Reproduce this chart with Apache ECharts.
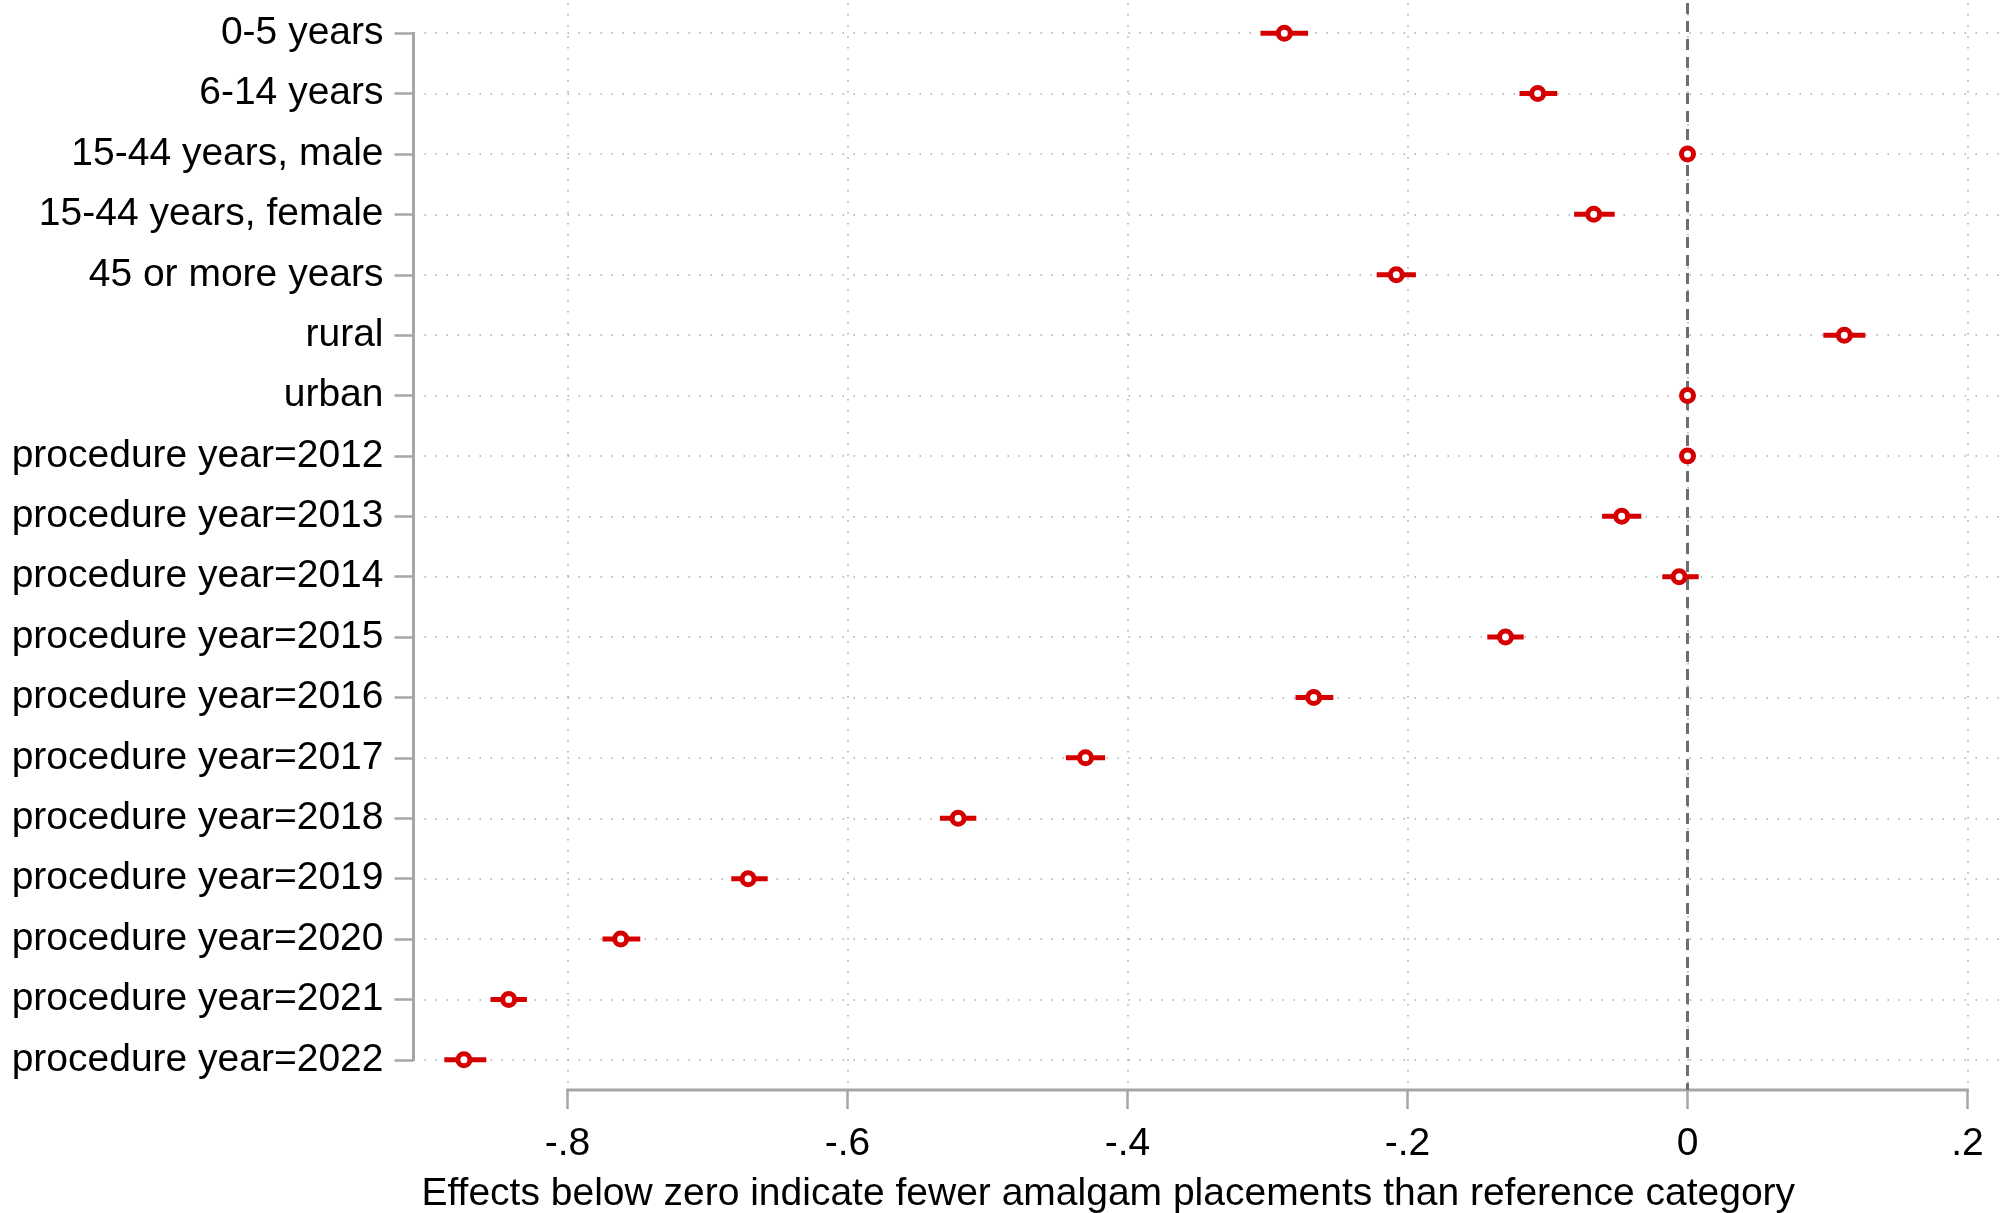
<!DOCTYPE html>
<html>
<head>
<meta charset="utf-8">
<script src="https://cdn.jsdelivr.net/npm/echarts@6/dist/echarts.min.js"></script>
<style>
  html, body { margin: 0; padding: 0; background: #fff; }
  #chart { width: 2000px; height: 1213px; }
</style>
</head>
<body>
<div id="chart"></div>
<script>
// rows, top to bottom
const categories = [
  "0-5 years",
  "6-14 years",
  "15-44 years, male",
  "15-44 years, female",
  "45 or more years",
  "rural",
  "urban",
  "procedure year=2012",
  "procedure year=2013",
  "procedure year=2014",
  "procedure year=2015",
  "procedure year=2016",
  "procedure year=2017",
  "procedure year=2018",
  "procedure year=2019",
  "procedure year=2020",
  "procedure year=2021",
  "procedure year=2022",
];
const estimates = [-0.288, -0.107, 0, -0.067, -0.208, 0.112, 0, 0, -0.047, -0.006, -0.130, -0.267, -0.430, -0.521, -0.671, -0.762, -0.842, -0.874];
const ciLow     = [-0.305, -0.120, 0, -0.081, -0.222, 0.097, 0, 0, -0.061, -0.018, -0.143, -0.280, -0.444, -0.534, -0.683, -0.775, -0.855, -0.888];
const ciHigh    = [-0.271, -0.093, 0, -0.052, -0.194, 0.127, 0, 0, -0.033, 0.008, -0.117, -0.253, -0.416, -0.508, -0.657, -0.748, -0.829, -0.858];
const xTicks = [-0.8, -0.6, -0.4, -0.2, 0, 0.2];
const xTickLabels = ["-.8", "-.6", "-.4", "-.2", "0", ".2"];
const refLine = 0;

const xMin = -0.91;
const xMax = 0.2232;
const yMin = -0.5;
const yMax = categories.length - 0.5;
const rowIdx = categories.map((c, i) => i);

const red = "#d40000";
const axisGray = "#a6a6a6";
const gridStyle = { color: "#aaaaaa", width: 1.5, type: [1.5, 9.5] };
const font = "'Liberation Sans', Arial, sans-serif";

const chart = echarts.init(document.getElementById("chart"));

chart.setOption({
  animation: false,
  backgroundColor: "#fff",
  grid: { left: 413.5, right: 0, top: 3, bottom: 123, outerBoundsMode: "none", containLabel: false },
  xAxis: {
    type: "value",
    min: xMin,
    max: xMax,
    axisLine: { show: false, onZero: false },
    axisTick: {
      show: true,
      customValues: xTicks,
      length: 19,
      lineStyle: { color: axisGray, width: 2.5 },
    },
    axisLabel: {
      customValues: xTicks,
      margin: 35,
      color: "#000",
      fontFamily: font,
      fontSize: 39,
      formatter: (v) => xTickLabels[xTicks.findIndex((t) => Math.abs(t - v) < 1e-9)],
    },
    splitLine: { show: true, lineStyle: gridStyle },
    name: "Effects below zero indicate fewer amalgam placements than reference category",
    nameLocation: "middle",
    nameGap: 85,
    nameTextStyle: {
      color: "#000",
      fontFamily: font,
      fontSize: 39,
      padding: [0, 197, 0, 0],
    },
  },
  yAxis: {
    type: "value",
    inverse: true,
    min: yMin,
    max: yMax,
    axisLine: { show: false, onZero: false },
    axisTick: {
      show: true,
      customValues: rowIdx,
      length: 19,
      lineStyle: { color: axisGray, width: 2.5 },
    },
    axisLabel: {
      customValues: rowIdx,
      margin: 30,
      color: "#000",
      fontFamily: font,
      fontSize: 39,
      padding: [7, 0, 0, 0],
      formatter: (v) => categories[Math.round(v)],
    },
    splitLine: { show: true, lineStyle: gridStyle },
  },
  series: [
    {
      // axis lines that only span the tick range, like the original
      type: "custom",
      name: "axes",
      silent: true,
      z: 2,
      data: [[0]],
      renderItem: (params, api) => {
        const xa = api.coord([xTicks[0], yMax]);
        const xb = api.coord([xTicks[xTicks.length - 1], yMax]);
        const ya = api.coord([xMin, 0]);
        const yb = api.coord([xMin, categories.length - 1]);
        const style = { stroke: axisGray, lineWidth: 3, fill: null };
        return {
          type: "group",
          children: [
            { type: "line", shape: { x1: xa[0] - 1.25, y1: xa[1], x2: xb[0] + 1.25, y2: xb[1] }, style },
            { type: "line", shape: { x1: ya[0], y1: ya[1] - 1.25, x2: yb[0], y2: yb[1] + 1.25 }, style },
          ],
        };
      },
    },
    {
      type: "line",
      name: "reference",
      data: [],
      z: 3,
      markLine: {
        silent: true,
        symbol: "none",
        label: { show: false },
        lineStyle: { color: "#6e6e6e", width: 3, type: [11, 7] },
        data: [{ xAxis: refLine }],
      },
    },
    {
      type: "custom",
      name: "ci",
      z: 4,
      data: categories.map((c, i) => [i, ciLow[i], ciHigh[i]]),
      renderItem: (params, api) => {
        const i = api.value(0);
        const a = api.coord([api.value(1), i]);
        const b = api.coord([api.value(2), i]);
        return {
          type: "line",
          shape: { x1: a[0], y1: a[1], x2: b[0], y2: b[1] },
          style: { stroke: red, lineWidth: 5 },
        };
      },
    },
    {
      type: "scatter",
      name: "estimate",
      z: 5,
      symbol: "circle",
      symbolSize: 12,
      itemStyle: { color: "#fff", borderColor: red, borderWidth: 5, opacity: 1 },
      data: categories.map((c, i) => [estimates[i], i]),
    },
  ],
});
</script>
</body>
</html>
